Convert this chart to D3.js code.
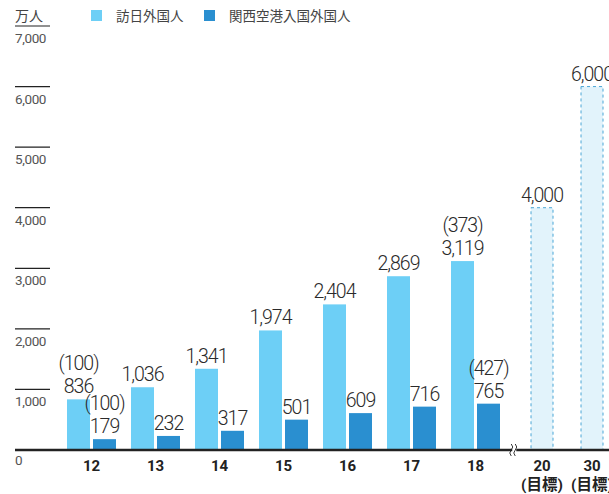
<!DOCTYPE html>
<html>
<head>
<meta charset="utf-8">
<script src="https://cdn.jsdelivr.net/npm/d3@7"></script>
<style>
  body { margin: 0; background: #fff; }
  svg { display: block; font-family: "Roboto", "Noto Sans CJK JP", sans-serif; }
</style>
</head>
<body>
<div id="chart"></div>
<script>
// data
const years = ["12", "13", "14", "15", "16", "17", "18"];
const visitors = [836, 1036, 1341, 1974, 2404, 2869, 3119];
const kixVisitors = [179, 232, 317, 501, 609, 716, 765];
const visitorNotes = ["(100)", "", "", "", "", "", "(373)"];
const kixNotes = ["(100)", "", "", "", "", "", "(427)"];
const targetYears = ["20", "30"];
const targets = [4000, 6000];
const yTicks = [0, 1000, 2000, 3000, 4000, 5000, 6000, 7000];
const seriesNames = ["訪日外国人", "関西空港入国外国人"];

const width = 609, height = 494;
const colors = ["#6dcff6", "#2a8fd0"];
const fmt = d3.format(",");

const svg = d3.select("#chart").append("svg")
  .attr("width", width)
  .attr("height", height);

// scales
const y = d3.scaleLinear().domain([0, 7000]).range([450, 26]);
const x = d3.scaleBand().domain(years).range([59.5, 507.5]);
const xt = d3.scaleBand().domain(targetYears).range([517, 617]);
const barW = 23, gap = 3;

// y axis: short rules with labels underneath
const ticks = svg.append("g");
ticks.selectAll("line")
  .data(yTicks.filter(d => d > 0))
  .join("line")
    .attr("x1", 15).attr("x2", 50)
    .attr("y1", d => y(d)).attr("y2", d => y(d))
    .attr("stroke", "#222").attr("stroke-width", 1.2);
ticks.selectAll("text")
  .data(yTicks)
  .join("text")
    .attr("x", 15)
    .attr("y", d => d === 0 ? y(d) + 15 : y(d) + 17)
    .attr("font-size", 13.5)
    .attr("fill", "#555")
    .attr("letter-spacing", -0.4)
    .text(d => fmt(d));

svg.append("text")
  .attr("x", 15).attr("y", 21)
  .attr("font-size", 14).attr("fill", "#444")
  .text("万人");

// legend
const legend = svg.append("g");
const legendX = [91, 204];
seriesNames.forEach((name, i) => {
  legend.append("rect")
    .attr("x", legendX[i]).attr("y", 10)
    .attr("width", 11).attr("height", 11)
    .attr("fill", colors[i]);
  legend.append("text")
    .attr("x", legendX[i] + 25).attr("y", 21)
    .attr("font-size", 13.5).attr("fill", "#444")
    .text(name);
});

// bars
const rows = years.map((yr, i) => ({
  yr, v: visitors[i], k: kixVisitors[i], vn: visitorNotes[i], kn: kixNotes[i]
}));
const bars = svg.append("g");
const label = (sel) => sel
  .attr("text-anchor", "middle")
  .attr("font-size", 19.5)
  .attr("font-weight", 300)
  .attr("letter-spacing", -1)
  .attr("fill", "#2a2a2a");

rows.forEach(d => {
  const cx = x(d.yr) + x.bandwidth() / 2;
  const lx = cx - gap / 2 - barW, kx = cx + gap / 2;
  bars.append("rect")
    .attr("x", lx).attr("y", y(d.v))
    .attr("width", barW).attr("height", y(0) - y(d.v))
    .attr("fill", colors[0]);
  bars.append("rect")
    .attr("x", kx).attr("y", y(d.k))
    .attr("width", barW).attr("height", y(0) - y(d.k))
    .attr("fill", colors[1]);
  bars.append("text").call(label)
    .attr("x", lx + barW / 2).attr("y", y(d.v) - 6)
    .text(fmt(d.v));
  bars.append("text").call(label)
    .attr("x", kx + barW / 2).attr("y", y(d.k) - 6)
    .text(fmt(d.k));
  if (d.vn) bars.append("text").call(label)
    .attr("x", lx + barW / 2).attr("y", y(d.v) - 29)
    .text(d.vn);
  if (d.kn) bars.append("text").call(label)
    .attr("x", kx + barW / 2).attr("y", y(d.k) - 29)
    .text(d.kn);
  svg.append("text")
    .attr("x", cx).attr("y", 471)
    .attr("text-anchor", "middle")
    .attr("font-size", 15).attr("font-weight", "bold")
    .attr("fill", "#222")
    .text(d.yr);
});

// target bars (dashed)
targetYears.forEach((yr, i) => {
  const cx = xt(yr) + xt.bandwidth() / 2;
  bars.append("rect")
    .attr("x", cx - 11).attr("y", y(targets[i]))
    .attr("width", 22).attr("height", y(0) - y(targets[i]))
    .attr("fill", "#e2f3fb")
    .attr("stroke", "#4aa6d6")
    .attr("stroke-width", 1)
    .attr("stroke-dasharray", "3,3");
  bars.append("text").call(label)
    .attr("x", cx).attr("y", y(targets[i]) - 6)
    .text(fmt(targets[i]));
  svg.append("text")
    .attr("x", cx).attr("y", 471)
    .attr("text-anchor", "middle")
    .attr("font-size", 15).attr("font-weight", "bold")
    .attr("fill", "#222")
    .text(yr);
  svg.append("text")
    .attr("x", cx).attr("y", 490)
    .attr("text-anchor", "middle")
    .attr("font-size", 15.5).attr("font-weight", "bold")
    .attr("fill", "#222")
    .text("(目標)");
});

// baseline with break mark
svg.append("line")
  .attr("x1", 15).attr("x2", width)
  .attr("y1", y(0)).attr("y2", y(0))
  .attr("stroke", "#222").attr("stroke-width", 2.5);
const bx = (x.range()[1] + xt.range()[0]) / 2 + 2;
svg.append("rect")
  .attr("x", bx - 2).attr("y", y(0) - 3)
  .attr("width", 4).attr("height", 6)
  .attr("fill", "#fff");
[-2, 2].forEach(o => {
  svg.append("path")
    .attr("d", `M${bx + o - 1},${y(0) - 6} q3,3 0,6 q-3,3 0,6`)
    .attr("fill", "none")
    .attr("stroke", "#222").attr("stroke-width", 0.9);
});
</script>
</body>
</html>
